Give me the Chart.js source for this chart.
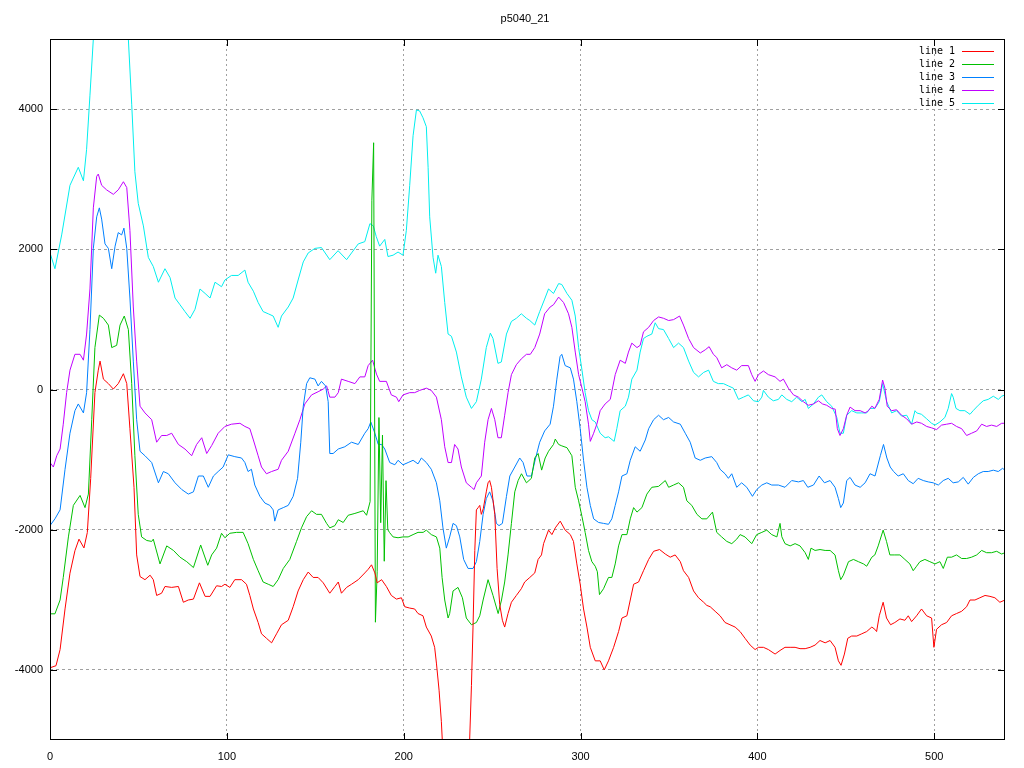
<!DOCTYPE html>
<html>
<head>
<meta charset="utf-8">
<script src="https://cdn.jsdelivr.net/npm/chart.js@4.4.1/dist/chart.umd.min.js"></script>
<style>
  html, body { margin: 0; padding: 0; background: #fff; }
  #wrap { width: 1024px; height: 768px; }
</style>
</head>
<body>
<div id="wrap"><canvas id="c" width="1024" height="768"></canvas></div>
<script>
// valeurs : [x, y]
const line1 = [[0,-3970],[3.4,-3940],[5.7,-3710],[8.5,-3130],[11.3,-2620],[14.1,-2300],[16.4,-2135],[19.2,-2260],[21.1,-2040],[23,-1270],[25.4,-45],[27.3,276],[28.3,405],[30.2,148],[33,84],[35.8,6],[38.6,84],[41.5,225],[43.4,84],[45.2,-560],[47.5,-1395],[49,-2360],[50.9,-2668],[53.7,-2713],[56.6,-2649],[58.4,-2713],[60.3,-2938],[63.1,-2906],[65,-2810],[68.8,-2823],[72.6,-2810],[75.4,-3035],[78.2,-3003],[81.1,-2990],[84.5,-2758],[87.7,-2951],[90.5,-2951],[94.2,-2800],[97,-2810],[98.9,-2778],[101.7,-2823],[104.5,-2713],[108.3,-2713],[111.1,-2778],[113,-2938],[115,-3131],[117.7,-3324],[119.6,-3485],[122.4,-3549],[125.3,-3614],[128.1,-3485],[130.9,-3356],[134.7,-3292],[137.5,-3099],[140.3,-2874],[143.2,-2713],[146,-2604],[148.8,-2681],[151.6,-2681],[154.5,-2758],[158.2,-2906],[161.1,-2810],[163,-2746],[164.8,-2906],[167.7,-2823],[170.5,-2778],[174.3,-2713],[178,-2617],[179.9,-2565],[181.8,-2501],[183.7,-2617],[185,-2758],[187.5,-2713],[190.2,-2810],[193,-2938],[195.9,-2990],[198.7,-2971],[200.6,-3099],[203.4,-3118],[206.2,-3131],[208.1,-3196],[210.9,-3228],[212.8,-3389],[215.6,-3517],[217.5,-3678],[218.5,-3903],[220,-4289],[221.3,-4739],[223,-5600],[226,-6500],[230,-7000],[234,-6500],[236.5,-5600],[238.3,-4225],[239.2,-3389],[240.2,-2296],[241.1,-1717],[242.1,-1685],[243,-1653],[243.9,-1781],[245,-1700],[246.7,-1460],[247.7,-1331],[248.6,-1299],[249.6,-1395],[251.5,-1781],[252.8,-2553],[254.3,-3067],[255.8,-3292],[257.1,-3389],[259,-3196],[260.9,-3035],[263.7,-2938],[266.5,-2842],[268.4,-2746],[271.3,-2681],[274.1,-2617],[276,-2424],[277.9,-2360],[279.1,-2199],[281.9,-2006],[283.8,-2070],[285.7,-1974],[288.5,-1878],[291.3,-2006],[294.2,-2070],[296,-2167],[297.9,-2488],[299.8,-2778],[301.7,-3131],[303.6,-3389],[305.5,-3678],[308.3,-3871],[311.1,-3871],[313.4,-4000],[315.8,-3871],[318.7,-3678],[321.5,-3453],[323.4,-3260],[326.2,-3228],[328.1,-3003],[330,-2778],[332.8,-2746],[335.6,-2585],[338.5,-2424],[341.3,-2308],[344.7,-2283],[347.9,-2347],[350.7,-2392],[353.5,-2360],[356.4,-2456],[358.2,-2585],[361.1,-2681],[363.9,-2874],[366.7,-2971],[369.6,-3035],[371.4,-3080],[373.3,-3099],[376.1,-3164],[378.9,-3228],[381.7,-3324],[384.5,-3356],[387.4,-3389],[390.2,-3453],[393,-3549],[395.9,-3646],[398.7,-3710],[400.6,-3678],[403.4,-3678],[406.2,-3710],[410,-3774],[412.8,-3723],[415.6,-3678],[418.5,-3678],[421.3,-3678],[424.1,-3697],[427,-3697],[429.8,-3678],[432.6,-3646],[435.4,-3581],[438.3,-3614],[441.1,-3581],[443.9,-3678],[445.8,-3871],[447.3,-3935],[449.2,-3774],[451.1,-3549],[453.3,-3517],[456.2,-3517],[459,-3485],[461.8,-3453],[464.7,-3389],[466.4,-3421],[467.4,-3453],[468.9,-3228],[471.1,-3035],[473,-3260],[475.3,-3356],[477.7,-3324],[480.6,-3273],[483.4,-3292],[485.3,-3228],[487.2,-3311],[490,-3228],[492.8,-3131],[495.7,-3228],[498.5,-3260],[499.8,-3678],[501.3,-3421],[504.1,-3356],[507,-3324],[509.8,-3228],[512.6,-3196],[515.5,-3164],[518.3,-3099],[520.2,-3003],[523,-3003],[525.8,-2971],[528.7,-2938],[531.5,-2951],[534.3,-2971],[537.1,-3035],[540,-3003]];

const line2 = [[0,-3200],[2.8,-3200],[5.7,-3003],[7.5,-2681],[10.4,-2103],[13.2,-1653],[17,-1511],[19.8,-1685],[21.7,-1492],[23.6,-431],[25.4,598],[27.9,1061],[30.2,1016],[33,919],[34.9,598],[37.7,630],[39.6,919],[42,1048],[44.3,855],[46.2,84],[48,-945],[49.9,-1781],[51.8,-2103],[54.7,-2154],[57.5,-2167],[58.4,-2135],[62.2,-2488],[66,-2231],[69.8,-2296],[73.5,-2392],[77.3,-2456],[81.1,-2540],[85.2,-2218],[89.2,-2508],[91.4,-2360],[94.2,-2263],[97,-2051],[98.9,-2115],[101.7,-2051],[105.5,-2038],[109.2,-2038],[112,-2199],[115,-2424],[117.7,-2585],[120.5,-2746],[123.4,-2778],[126.2,-2810],[129,-2713],[131.9,-2553],[135.6,-2424],[139.4,-2167],[142.2,-1974],[145.1,-1813],[147.9,-1730],[150.7,-1781],[153.5,-1781],[156.4,-1910],[158.2,-1974],[161.1,-1942],[163,-1858],[165.8,-1897],[168.6,-1794],[172.4,-1768],[177.1,-1730],[179,-1794],[181,-1600],[182,2700],[183,3520],[184,-3320],[185,-2600],[186,-400],[187,-1900],[188,-650],[189,-2450],[190,-1300],[191,-2000],[192,-2040],[194,-2103],[196.8,-2115],[199.6,-2103],[202.5,-2103],[205.3,-2070],[208.1,-2038],[211,-2038],[212.8,-2006],[215.6,-2070],[218.5,-2103],[220.4,-2263],[221.7,-2681],[223.2,-3003],[225.1,-3260],[226,-3196],[227.9,-2874],[230.7,-2823],[233.2,-2971],[235.4,-3260],[238.3,-3356],[241.1,-3324],[243,-3228],[244.9,-3003],[247.7,-2713],[250.5,-2938],[253.4,-3196],[255.3,-3003],[257.1,-2746],[259,-2360],[260.9,-1910],[262.8,-1460],[264.7,-1299],[266.6,-1202],[269.4,-1331],[272.2,-1267],[274.1,-977],[276,-913],[278,-1150],[280,-977],[281.9,-881],[284.7,-784],[285.7,-707],[287.6,-784],[289.4,-804],[292.3,-830],[295.1,-945],[297,-1395],[298.9,-1588],[300.8,-1813],[302.6,-2038],[304.5,-2296],[306.4,-2456],[308.3,-2521],[309.5,-2600],[310.7,-2926],[313,-2842],[315.8,-2681],[317.7,-2681],[319.6,-2488],[321.5,-2231],[323.4,-2070],[326.2,-2070],[328.1,-1845],[330,-1685],[331.9,-1749],[334.7,-1685],[337.5,-1492],[340.3,-1395],[344.1,-1382],[347.9,-1299],[349.8,-1395],[352.6,-1363],[355.4,-1331],[358.2,-1395],[360.1,-1588],[362.9,-1653],[365.8,-1781],[368.6,-1845],[371.4,-1845],[374.6,-1749],[377,-2038],[379.8,-2103],[382.7,-2167],[385.5,-2199],[388.3,-2135],[390.2,-2070],[393,-2103],[396.8,-2199],[399.6,-2070],[402.5,-2038],[405.3,-2006],[408.1,-2070],[411,-2103],[412.8,-1910],[413.8,-2100],[415.6,-2199],[418.5,-2231],[421.3,-2199],[424.1,-2231],[427,-2328],[428.8,-2424],[430.3,-2263],[432.6,-2296],[435.4,-2283],[438.3,-2296],[441.1,-2296],[443.9,-2360],[445.8,-2585],[447.1,-2713],[448.6,-2649],[451.5,-2456],[454.3,-2424],[457.1,-2456],[460,-2488],[461.8,-2521],[464.7,-2392],[466.4,-2360],[468.3,-2231],[471.1,-2006],[473,-2167],[474.9,-2360],[477.7,-2360],[480.6,-2360],[483.4,-2424],[486.2,-2488],[488.1,-2585],[490,-2521],[491.9,-2456],[494.7,-2424],[497.5,-2456],[500.4,-2488],[503.2,-2456],[505.1,-2553],[507.4,-2392],[509.8,-2392],[512.6,-2360],[515.5,-2411],[518.3,-2411],[521.1,-2392],[524,-2360],[526.8,-2296],[529.6,-2328],[532.4,-2328],[535.3,-2308],[538.1,-2347],[540,-2328]];

const line3 = [[0,-1942],[2.8,-1845],[5.7,-1717],[8.5,-1138],[11.3,-624],[14.1,-302],[16,-206],[18.9,-334],[20.7,-45],[22.6,855],[24.5,2013],[26.4,2463],[27.9,2591],[29.2,2431],[31.1,2077],[33,2013],[34.9,1723],[36.8,2045],[38.6,2238],[40.5,2205],[41.8,2302],[43.4,2013],[45.2,1305],[47.1,405],[49,-431],[50.9,-881],[53.7,-945],[57.5,-1042],[61.3,-1331],[64.1,-1170],[66.9,-1202],[70.7,-1331],[74.5,-1427],[78.2,-1492],[81.1,-1460],[83.9,-1234],[86.7,-1234],[89.5,-1395],[92.4,-1234],[95.1,-1170],[97.9,-1106],[100.8,-932],[104.5,-958],[108.3,-977],[110.2,-1042],[112,-1170],[113.9,-1138],[115.8,-1363],[118.7,-1524],[121.5,-1620],[124.3,-1653],[126.2,-1717],[127.1,-1878],[129,-1717],[131.9,-1685],[134.7,-1653],[137.5,-1524],[140,-1267],[141.8,-752],[143.2,-238],[145.1,84],[146.9,167],[149.8,148],[151.6,51],[153.5,116],[155.8,51],[157.3,-174],[158.2,-913],[160.1,-913],[163,-849],[166.7,-817],[170.5,-752],[174.3,-784],[178,-624],[179.9,-559],[181.4,-463],[183.7,-624],[185.6,-784],[187.5,-784],[189.3,-849],[192.1,-1042],[195,-1074],[196.8,-1010],[199.6,-1074],[202.5,-1042],[205.3,-1010],[208.1,-1061],[210,-977],[212.8,-1042],[215.6,-1138],[218.5,-1331],[220.4,-1588],[222.2,-1974],[224.1,-2263],[226,-2103],[227.9,-1910],[229.8,-1942],[231.7,-2103],[233.9,-2424],[236.4,-2553],[239.2,-2553],[241.1,-2456],[243,-2167],[244.9,-1781],[246.7,-1556],[248.6,-1460],[250.5,-1588],[252.4,-1910],[253.9,-1942],[255.8,-1910],[258.1,-1524],[260,-1234],[262.8,-1106],[265.6,-977],[267.5,-1042],[269.7,-1234],[272.2,-1234],[274.6,-977],[276.9,-752],[279.7,-591],[282.8,-495],[284.7,-238],[286.6,148],[288.4,469],[289.4,502],[291.3,341],[294.2,309],[296,148],[297.9,-174],[299.8,-559],[301.7,-1010],[303.6,-1395],[305.5,-1653],[307.4,-1845],[310.2,-1897],[313,-1910],[315.8,-1923],[317.7,-1845],[319.6,-1653],[321.5,-1460],[323.4,-1234],[326.2,-1202],[328.1,-1010],[330.9,-817],[333.7,-881],[336.6,-720],[338.5,-559],[341.3,-431],[344.1,-367],[346.9,-431],[349.8,-399],[352.6,-463],[356.4,-495],[359.2,-624],[362,-752],[364.8,-977],[367.7,-1010],[370.5,-977],[374.2,-958],[377,-1042],[378.9,-1138],[381.7,-1202],[383.6,-1267],[385.5,-1202],[388.3,-1395],[391.1,-1331],[394,-1395],[397.2,-1524],[399.6,-1427],[402.5,-1363],[405.3,-1331],[408.1,-1363],[411.9,-1363],[415.6,-1395],[419.4,-1299],[423.2,-1318],[426,-1299],[428.5,-1395],[431.7,-1363],[434.9,-1234],[437.9,-1331],[441.1,-1299],[443.9,-1395],[445.8,-1556],[447.1,-1685],[448.6,-1620],[450.5,-1299],[452.4,-1254],[455.2,-1363],[458.1,-1395],[460.9,-1331],[463.7,-1202],[466.5,-1234],[469.5,-945],[471.3,-784],[473.2,-977],[475.1,-1106],[477,-1170],[479.6,-1234],[482.5,-1202],[485.3,-1299],[488.1,-1344],[490.9,-1267],[493.8,-1299],[496.6,-1318],[499.4,-1331],[502.3,-1363],[505.1,-1299],[507.9,-1267],[510.7,-1331],[513.6,-1318],[516.4,-1254],[519.2,-1350],[522.1,-1254],[524.9,-1202],[527.7,-1170],[530.5,-1170],[533.4,-1151],[536.2,-1170],[538.6,-1125],[540,-1151]];

const line4 = [[0,-1042],[1.9,-1106],[3.8,-945],[5.7,-849],[7.5,-495],[9.4,-45],[11.3,276],[14.1,502],[17,502],[18.9,418],[20.7,791],[22.6,1434],[24.5,2591],[26.4,3041],[27.3,3073],[29.2,2913],[32,2848],[35.8,2784],[38.6,2848],[41.5,2964],[43.4,2881],[45.2,2270],[47.1,1177],[49,405],[50.9,-238],[53.7,-334],[57.5,-431],[60.3,-752],[63.1,-656],[66,-656],[68.8,-624],[72.6,-784],[76.3,-849],[80.1,-945],[82.9,-784],[85.8,-688],[88.6,-913],[91.4,-800],[95.1,-624],[98.9,-527],[102.6,-495],[107.4,-482],[110.2,-527],[113,-559],[115,-720],[117.7,-945],[119.6,-1106],[122.4,-1202],[125.3,-1170],[129,-1138],[130.9,-1010],[134.7,-881],[138.5,-624],[141.3,-431],[144.1,-206],[147.9,-77],[151.6,-32],[154.5,6],[156.4,51],[158.2,-109],[161.1,-109],[163,-45],[164.8,148],[168.6,116],[172.4,84],[175.2,180],[178,180],[179.9,341],[182.4,418],[184.6,220],[186.4,116],[190.2,116],[193,-77],[195.9,-109],[197.2,-174],[199.6,-77],[203.4,-45],[206.2,-45],[209,-13],[212.8,19],[215.6,-13],[218.5,-109],[221.3,-431],[223.2,-817],[225.1,-1042],[227,-1042],[228.8,-784],[230.7,-849],[232.6,-1106],[235.4,-1331],[238.3,-1395],[239.8,-1427],[241.1,-1331],[243.9,-1234],[245.8,-752],[247.7,-431],[249.6,-270],[251.5,-431],[253.3,-688],[255.2,-688],[257.1,-367],[259,-45],[260.9,212],[263.7,354],[266.5,437],[269.4,502],[271.6,502],[274.1,598],[276.9,791],[279.7,1080],[282.8,1177],[284.7,1209],[287.6,1318],[290.4,1241],[293.2,1080],[295.1,887],[297,534],[298.9,212],[300.8,19],[302.6,-174],[304.5,-495],[305.5,-740],[307.4,-624],[309.2,-495],[311.1,-302],[313.9,-206],[316.8,-141],[319.6,212],[322.4,418],[325.3,373],[327.1,534],[329,662],[331.9,598],[333.7,630],[335.6,823],[338.5,887],[341.3,984],[344.1,1035],[346.9,1016],[349.8,984],[352.6,997],[356,1048],[358.2,919],[361.1,727],[363.9,598],[367.7,521],[370.5,566],[372.7,611],[375.1,502],[377,457],[379.8,309],[382.7,354],[385.5,309],[388.3,276],[391.1,341],[394.9,341],[396.8,212],[398.7,116],[400.6,212],[403.4,264],[406.2,212],[410,180],[412.8,116],[414.7,148],[417.5,19],[420.4,-77],[423.2,-109],[426,-174],[428.8,-225],[431.7,-206],[434.5,-161],[436.8,-206],[439.2,-225],[442,-270],[444,-280],[445.2,-559],[446.7,-656],[448.6,-559],[450.5,-367],[452.4,-251],[455.2,-302],[458.1,-302],[460.9,-334],[462.8,-302],[464.7,-238],[466.4,-270],[468.9,-141],[470.8,135],[472.1,19],[473.4,-238],[475.9,-302],[478.7,-289],[481.5,-367],[484.4,-418],[487.2,-495],[490.1,-463],[492.8,-482],[495.7,-527],[498.5,-547],[501.3,-572],[504.1,-508],[507,-495],[509.8,-482],[512.6,-527],[515.5,-559],[518.3,-656],[521.1,-624],[524,-591],[526.8,-495],[529.6,-527],[532.4,-508],[535.3,-527],[538.1,-482],[540,-482]];

const line5 = [[0,1950],[2.8,1723],[6.6,2205],[11.3,2913],[16,3170],[18.9,2977],[20.7,3427],[22.6,4199],[24.5,5000],[27,6200],[31,7000],[35,7200],[39,6800],[42,6000],[44.3,5000],[46.2,4070],[48,3106],[49.9,2656],[52.8,2334],[55.6,1884],[58.4,1755],[61.3,1530],[65,1723],[67.9,1595],[70.7,1305],[73.5,1209],[76.3,1112],[79.2,1016],[82,1145],[84.8,1434],[87.7,1370],[90.5,1305],[93.3,1530],[97,1466],[98.9,1562],[102.6,1627],[106.4,1627],[110.2,1704],[112,1530],[115,1402],[117.7,1241],[120.5,1112],[123.4,1080],[126.2,1048],[129,887],[130.9,1048],[134.7,1177],[137.5,1305],[140.3,1562],[143.2,1820],[146,1948],[149.8,2013],[153.5,2025],[158.2,1852],[162.9,1980],[167.7,1852],[170.5,1948],[174.3,2077],[178,2109],[180.9,2366],[182.8,2334],[184.5,2180],[186.4,2045],[189.3,2141],[191.1,1897],[194,1916],[196.8,1961],[199.6,1916],[201.5,2270],[203.4,2913],[205.3,3620],[207.2,3987],[209,3974],[210.9,3877],[212.8,3749],[213.8,3170],[214.7,2463],[216.6,1884],[218.1,1659],[219.4,1916],[221.3,1755],[223.2,1241],[225.1,791],[227,759],[229.8,534],[232.6,180],[235.4,-109],[238.3,-270],[241.1,-174],[243.9,148],[246.7,598],[249,804],[250.5,727],[253.3,373],[255.2,392],[258.1,791],[260.9,971],[263.7,1016],[266.5,1080],[269.4,1016],[271.3,984],[274.1,919],[276.9,1112],[279.7,1290],[281.9,1434],[284.7,1370],[287.6,1511],[289.4,1498],[292.3,1370],[295.1,1273],[297,1048],[298.9,598],[300.8,276],[302.6,-45],[304.5,-302],[306.4,-431],[308.3,-463],[311.1,-624],[313.9,-688],[315.8,-675],[319,-740],[320.5,-559],[322.4,-302],[325.3,-238],[327.1,-109],[329,148],[331.9,276],[333.7,534],[335.6,727],[337.5,759],[340.3,791],[342.2,952],[344.1,868],[346.9,855],[349.8,727],[352.6,598],[355.4,662],[358.2,598],[361.1,405],[363.9,244],[366.7,180],[369.6,244],[372.4,276],[375.1,116],[377.9,84],[380.8,84],[383.6,51],[386.4,19],[389.3,-141],[392.1,-109],[394.9,-77],[397.8,-161],[400.6,-174],[402.5,-109],[403.4,-13],[406.2,-109],[409,-161],[411.9,-141],[413.8,-77],[416.6,-141],[419.4,-174],[422.2,-109],[425.1,-174],[427,-141],[428.8,-270],[431.7,-206],[434.5,-109],[436.4,-77],[439.2,-174],[442,-238],[444.9,-399],[446.7,-624],[448.6,-624],[450.5,-367],[453.3,-302],[456.2,-334],[459,-334],[461.8,-334],[463.7,-270],[466.4,-270],[468.9,-174],[470.8,84],[473.1,-174],[475.9,-334],[478.7,-302],[481.5,-379],[484.4,-367],[487.2,-495],[489.1,-302],[490.1,-334],[492.8,-354],[495.7,-418],[498.5,-482],[500.4,-508],[503.2,-463],[506,-399],[507.9,-270],[509.8,-58],[510.7,-109],[512.3,-270],[514.5,-302],[517.3,-302],[520.2,-354],[522,-302],[524.9,-225],[527.7,-161],[530.5,-141],[533.4,-96],[536.2,-141],[538.1,-96],[540,-77]];

const seriesNames = ['line 1', 'line 2', 'line 3', 'line 4', 'line 5'];
const seriesColors = ['#ff0000', '#00c000', '#0080ff', '#c000ff', '#00eeee'];
const xTicks = [0, 100, 200, 300, 400, 500];
const yTicks = [-4000, -2000, 0, 2000, 4000];
const chartTitle = 'p5040_21';

const allLines = [line1, line2, line3, line4, line5];

// cadre, graduations intérieures, titre et légende façon gnuplot
const gnuplotLook = {
    id: 'gnuplotLook',
    afterDraw(chart) {
        const ctx = chart.ctx;
        const a = chart.chartArea;
        const xs = chart.scales.x;
        const ys = chart.scales.y;
        ctx.save();
        ctx.strokeStyle = '#000';
        ctx.lineWidth = 1;
        ctx.setLineDash([]);
        ctx.strokeRect(a.left + 0.5, a.top + 0.5, a.right - a.left - 1, a.bottom - a.top - 1);

        const tl = 7;
        ctx.beginPath();
        xTicks.forEach(v => {
            const px = Math.round(xs.getPixelForValue(v)) + 0.5;
            ctx.moveTo(px, a.bottom); ctx.lineTo(px, a.bottom - tl);
            ctx.moveTo(px, a.top); ctx.lineTo(px, a.top + tl);
        });
        yTicks.forEach(v => {
            const py = Math.round(ys.getPixelForValue(v)) + 0.5;
            ctx.moveTo(a.left, py); ctx.lineTo(a.left + tl, py);
            ctx.moveTo(a.right, py); ctx.lineTo(a.right - tl, py);
        });
        ctx.stroke();

        // titre
        ctx.fillStyle = '#000';
        ctx.font = '11px "Liberation Sans"';
        ctx.textAlign = 'center';
        ctx.textBaseline = 'middle';
        ctx.fillText(chartTitle, 525, 19);

        // légende
        ctx.font = '10px "DejaVu Sans Mono"';
        ctx.textAlign = 'right';
        seriesNames.forEach((name, i) => {
            const y = 51 + i * 13;
            ctx.fillStyle = '#000';
            ctx.fillText(name, 955, y);
            ctx.strokeStyle = seriesColors[i];
            ctx.beginPath();
            ctx.moveTo(962, Math.round(y) + 0.5);
            ctx.lineTo(994, Math.round(y) + 0.5);
            ctx.stroke();
        });
        ctx.restore();
    }
};

new Chart(document.getElementById('c').getContext('2d'), {
    type: 'line',
    data: {
        datasets: allLines.map((pts, i) => ({
            label: seriesNames[i],
            data: pts.map(p => ({ x: p[0], y: p[1] })),
            borderColor: seriesColors[i],
            backgroundColor: seriesColors[i],
            borderWidth: 1,
            pointRadius: 0,
            tension: 0,
            fill: false,
            clip: 0
        }))
    },
    options: {
        responsive: false,
        animation: false,
        layout: { padding: { top: 39, right: 19, left: 0, bottom: 0 } },
        plugins: {
            legend: { display: false },
            title: { display: false },
            tooltip: { enabled: false }
        },
        scales: {
            x: {
                type: 'linear',
                min: 0,
                max: 540,
                afterBuildTicks: s => { s.ticks = xTicks.map(v => ({ value: v })); },
                afterFit: s => { s.height = 28; },
                grid: { color: '#a0a0a0', drawTicks: false },
                border: { display: false, dash: [2, 3] },
                ticks: { color: '#000', padding: 10, maxRotation: 0, font: { size: 11, family: 'Liberation Sans' } }
            },
            y: {
                min: -5000,
                max: 5000,
                afterBuildTicks: s => { s.ticks = yTicks.map(v => ({ value: v })); },
                afterFit: s => { s.width = 50; },
                grid: { color: '#a0a0a0', drawTicks: false },
                border: { display: false, dash: [3, 3] },
                ticks: { color: '#000', padding: 7, font: { size: 11, family: 'Liberation Sans' }, callback: v => String(v) }
            }
        }
    },
    plugins: [gnuplotLook]
});
</script>
</body>
</html>
